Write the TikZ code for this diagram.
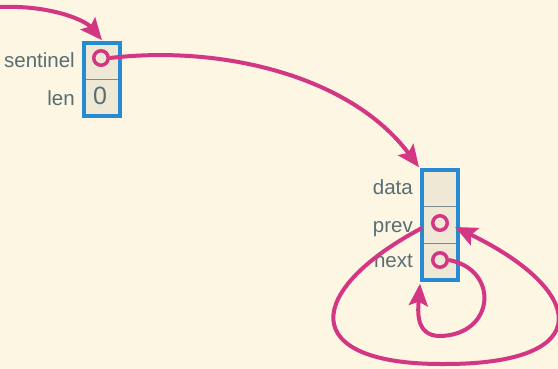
\documentclass[tikz,border=0pt]{standalone}
\usepackage{fontspec}
\setmainfont{Liberation Sans}
\usetikzlibrary{arrows.meta}
\definecolor{fon}{HTML}{FDF6E3}
\definecolor{yacheika}{HTML}{EEE8D5}
\definecolor{ramka}{HTML}{268BD2}
\definecolor{ukaz}{HTML}{D33682}
\definecolor{tekst}{HTML}{586E75}
\definecolor{liniya}{HTML}{7F8C8D}
\tikzset{
  cell/.style={rectangle, fill=yacheika, draw=liniya, line width=0.8pt,
    minimum width=36pt, minimum height=36.5pt, inner sep=0pt, outer sep=0pt},
  boxframe/.style={draw=ramka, line width=4.5pt},
  ptr/.style={circle, draw=ukaz, line width=3.5pt, minimum size=14.5pt, inner sep=0pt},
  lbl/.style={text=tekst, font=\fontsize{20.5}{24}\selectfont, anchor=base east, inner sep=0pt},
  link/.style={draw=ukaz, line width=4pt, -{Stealth[length=22pt,width=19pt,inset=4pt]}},
}
\begin{document}
\begin{tikzpicture}[x=1pt,y=-1pt]
  % фон
  \fill[fon] (0,0) rectangle (558,369);
  \useasboundingbox (0,0) rectangle (558,369);

  % заголовок списка
  \node[cell] (sent) at (102,61.5) {};
  \node[cell] (len) at (102,98) {};
  \draw[boxframe] (sent.north west) rectangle (len.south east);
  \node[ptr] (sentp) at (101,58) {};
  \node[text=tekst, font=\fontsize{25}{30}\selectfont, anchor=base, inner sep=0pt] (zero) at (100,105) {0};
  \node[lbl] (sentl) at (75,68) {sentinel};
  \node[lbl] (lenl) at (75,106) {len};

  % узел-страж
  \node[cell] (data) at (440,188.5) {};
  \node[cell] (prev) at (440,225) {};
  \node[cell] (next) at (440,261.5) {};
  \draw[boxframe] (data.north west) rectangle (next.south east);
  \node[ptr] (prevp) at (440,223) {};
  \node[ptr] (nextp) at (440,260) {};
  \node[lbl] (datal) at (413,195) {data};
  \node[lbl] (prevl) at (413,233) {prev};
  \node[lbl] (nextl) at (413,268) {next};

  % указатели
  \coordinate (vhod) at (0,7);
  \draw[link] (vhod) .. controls (50,5) and (85,20) .. ([yshift=3pt]sent.north);
  \draw[link] (sentp.east) .. controls (220,45) and (350,75) .. ([shift={(-3pt,3pt)}]data.north west);
  \draw[link] ([yshift=-3pt]prev.west) .. controls (305,290) and (295,365) .. (445,364)
    .. controls (600,364) and (585,290) .. ([shift={(-3pt,-2pt)}]prev.east);
  \draw[link] (nextp.east) .. controls (500,270) and (495,335) .. (440,336)
    .. controls (415,336) and (418,310) .. ([shift={(-2pt,-4pt)}]next.south west);
\end{tikzpicture}
\end{document}
